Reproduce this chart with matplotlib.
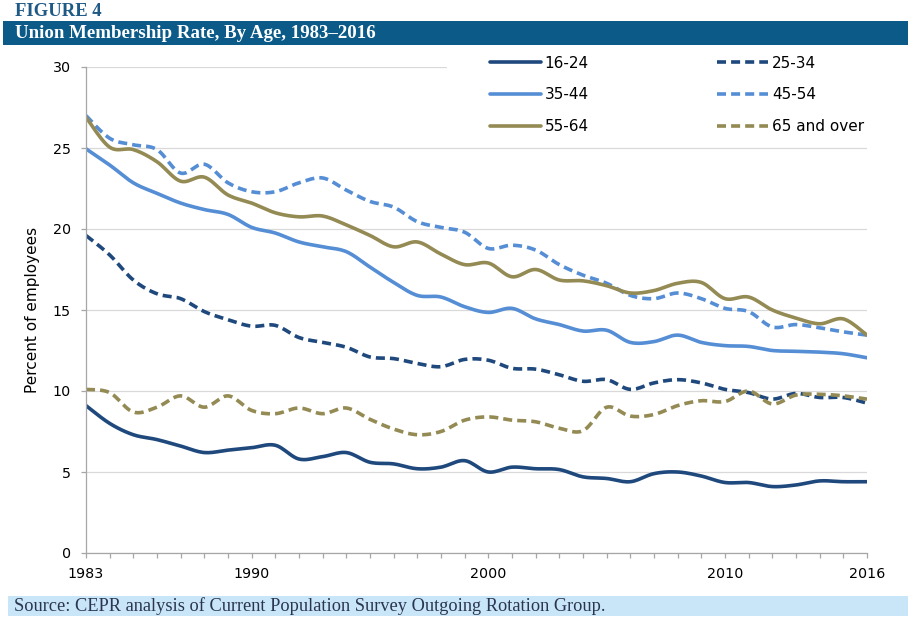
import numpy as np
import matplotlib
matplotlib.use("Agg")
import matplotlib.pyplot as plt
from matplotlib.patches import Rectangle

years = list(range(1983, 2017))
tick_label_years = [1983, 1990, 2000, 2010, 2016]

age_16_24 = [9.1, 8.0, 7.3, 7.0, 6.6, 6.2, 6.35, 6.5, 6.65, 5.8, 5.95, 6.2, 5.6, 5.5, 5.2, 5.3,
             5.7, 5.0, 5.3, 5.2, 5.15, 4.7, 4.6, 4.4, 4.9, 5.0, 4.75, 4.35, 4.35, 4.1, 4.2,
             4.45, 4.4, 4.4]
age_25_34 = [19.6, 18.4, 16.85, 16.0, 15.7, 14.9, 14.4, 14.0, 14.05, 13.3, 13.0, 12.7, 12.1,
             12.0, 11.7, 11.5, 11.95, 11.9, 11.4, 11.35, 11.0, 10.6, 10.7, 10.1, 10.5, 10.7,
             10.5, 10.1, 9.9, 9.5, 9.85, 9.6, 9.6, 9.25]
age_35_44 = [24.95, 23.95, 22.85, 22.2, 21.6, 21.2, 20.9, 20.1, 19.75, 19.2, 18.9, 18.6, 17.65,
             16.7, 15.9, 15.8, 15.2, 14.85, 15.1, 14.45, 14.1, 13.7, 13.75, 13.0, 13.05, 13.45,
             13.0, 12.8, 12.75, 12.5, 12.45, 12.4, 12.3, 12.05]
age_45_54 = [27.0, 25.6, 25.2, 24.9, 23.45, 24.0, 22.85, 22.3, 22.3, 22.85, 23.15, 22.4, 21.7,
             21.35, 20.45, 20.1, 19.8, 18.8, 19.0, 18.7, 17.8, 17.15, 16.65, 15.9, 15.7, 16.05,
             15.7, 15.1, 14.9, 13.95, 14.1, 13.9, 13.65, 13.45]
age_55_64 = [26.9, 25.05, 24.9, 24.15, 22.95, 23.2, 22.1, 21.6, 21.0, 20.75, 20.8, 20.25, 19.6,
             18.9, 19.2, 18.45, 17.8, 17.9, 17.05, 17.5, 16.85, 16.8, 16.5, 16.05, 16.2, 16.65,
             16.7, 15.7, 15.8, 15.0, 14.5, 14.15, 14.45, 13.45]
age_65_over = [10.1, 9.9, 8.7, 9.0, 9.7, 9.0, 9.7, 8.8, 8.6, 8.95, 8.6, 8.95, 8.25, 7.65, 7.3,
               7.5, 8.2, 8.4, 8.2, 8.1, 7.7, 7.55, 9.0, 8.45, 8.55, 9.1, 9.4, 9.35, 10.0, 9.2,
               9.75, 9.8, 9.7, 9.5]

labels = ["16-24", "25-34", "35-44", "45-54", "55-64", "65 and over"]
series = [age_16_24, age_25_34, age_35_44, age_45_54, age_55_64, age_65_over]

NAVY = "#1F497D"
BLUE = "#558ED5"
OLIVE = "#948A54"
colors = [NAVY, NAVY, BLUE, BLUE, OLIVE, OLIVE]
dashed = [False, True, False, True, False, True]


def smooth(x, y, n=12):
    """Excel-like smoothed line (Catmull-Rom / cubic Bezier through points)."""
    x = np.asarray(x, float)
    y = np.asarray(y, float)
    px = np.concatenate([[x[0]], x, [x[-1]]])
    py = np.concatenate([[y[0]], y, [y[-1]]])
    xs, ys = [], []
    t = np.linspace(0, 1, n, endpoint=False)
    for i in range(1, len(px) - 2):
        p0, p1, p2, p3 = (np.array([px[j], py[j]]) for j in (i - 1, i, i + 1, i + 2))
        c1 = p1 + (p2 - p0) / 6.0
        c2 = p2 - (p3 - p1) / 6.0
        b = ((1 - t) ** 3)[:, None] * p1 + (3 * (1 - t) ** 2 * t)[:, None] * c1 + \
            (3 * (1 - t) * t ** 2)[:, None] * c2 + (t ** 3)[:, None] * p2
        xs.append(b[:, 0])
        ys.append(b[:, 1])
    xs.append([x[-1]])
    ys.append([y[-1]])
    return np.concatenate(xs), np.concatenate(ys)


W, H = 913, 622
fig = plt.figure(figsize=(W / 100, H / 100), dpi=100)
fig.patch.set_facecolor("white")

# Header
fig.text(15 / W, 1 - 11 / H, "FIGURE 4", family="Liberation Serif", weight="bold",
         fontsize=13.4, color="#1F5A86", ha="left", va="center")
fig.patches.append(Rectangle((3 / W, 1 - 45 / H), 905 / W, 24 / H, transform=fig.transFigure,
                             facecolor="#0B5A87", edgecolor="none"))
fig.text(15 / W, 1 - 33.5 / H, "Union Membership Rate, By Age, 1983–2016",
         family="Liberation Serif", weight="bold", fontsize=13.6, color="white",
         ha="left", va="center")

# Source band
fig.patches.append(Rectangle((8 / W, 1 - 616 / H), 900 / W, 20 / H, transform=fig.transFigure,
                             facecolor="#C9E5F8", edgecolor="none"))
fig.text(14 / W, 1 - 606 / H,
         "Source: CEPR analysis of Current Population Survey Outgoing Rotation Group.",
         family="Liberation Serif", fontsize=13.2, color="#2A3550", ha="left", va="center")

ax = fig.add_axes([86 / W, 1 - 553 / H, 781 / W, 486 / H])
ax.set_xlim(1983, 2016)
ax.set_ylim(0, 30)
ax.set_yticks([0, 5, 10, 15, 20, 25, 30])
ax.set_xticks(years)
ax.set_xticklabels([str(y) if y in tick_label_years else "" for y in years])
ax.grid(axis="y", color="#D9D9D9", linewidth=0.9)
ax.set_axisbelow(True)
for s in ["top", "right"]:
    ax.spines[s].set_visible(False)
for s in ["left", "bottom"]:
    ax.spines[s].set_color("#A6A6A6")
    ax.spines[s].set_linewidth(0.9)
ax.tick_params(axis="both", colors="#A6A6A6", length=3.8, width=0.9, labelcolor="black",
               labelsize=10.3)
ax.tick_params(axis="x", pad=6)
ax.tick_params(axis="y", pad=7)
ax.set_ylabel("Percent of employees", fontsize=11)
ax.yaxis.set_label_coords(-0.059, 0.5)

handles = {}
for lab, vals, c, d in zip(labels, series, colors, dashed):
    sx, sy = smooth(years, vals)
    ln, = ax.plot(sx, sy, color=c, linewidth=2.6, solid_capstyle="round", label=lab)
    if d:
        ln.set_dashes((2.5, 1.4))
        ln.set_dash_capstyle("butt")
    handles[lab] = ln

# white area behind legend
ax.add_patch(Rectangle(((447 - 86) / 781, (553 - 145) / 486), (880 - 447) / 781, 100 / 486,
                       transform=ax.transAxes, facecolor="white", edgecolor="none",
                       zorder=1.5, clip_on=False))

order = ["16-24", "35-44", "55-64", "25-34", "45-54", "65 and over"]
leg = fig.legend([handles[k] for k in order], order, ncol=2, loc="upper left",
                 bbox_to_anchor=(482 / W, 1 - 48 / H), frameon=False, fontsize=11,
                 handlelength=3.33, handletextpad=0.27, columnspacing=8.4,
                 labelspacing=1.1, borderpad=0.5, borderaxespad=0)

fig.savefig("out.png", dpi=100)
